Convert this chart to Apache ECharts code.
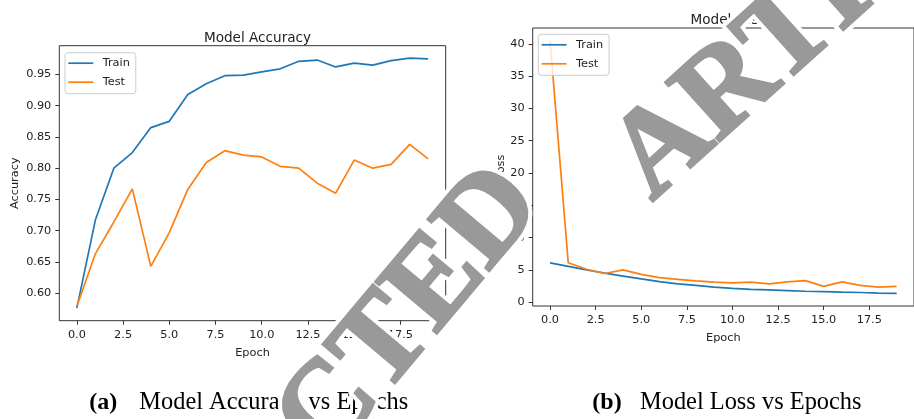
<!DOCTYPE html>
<html>
<head>
<meta charset="utf-8">
<script src="https://cdn.jsdelivr.net/npm/echarts@6/dist/echarts.min.js"></script>
<style>
html,body{margin:0;padding:0;background:#fff;}
#chart{width:914px;height:419px;}
</style>
</head>
<body>
<div id="chart"></div>
<script>
// ---- data ----
const epochs = [0,1,2,3,4,5,6,7,8,9,10,11,12,13,14,15,16,17,18,19];
const accTrain = [0.576,0.717,0.800,0.825,0.865,0.875,0.918,0.935,0.948,0.949,0.954,0.959,0.971,0.973,0.962,0.968,0.965,0.972,0.976,0.975];
const accTest  = [0.579,0.663,0.714,0.767,0.643,0.697,0.766,0.809,0.828,0.821,0.818,0.803,0.800,0.776,0.760,0.813,0.800,0.806,0.838,0.815];
const lossTrain = [6.1,5.55,5.0,4.5,4.05,3.6,3.2,2.85,2.6,2.35,2.15,2.0,1.9,1.8,1.7,1.65,1.55,1.5,1.42,1.37];
const lossTest  = [40.5,6.1,5.1,4.45,5.0,4.3,3.8,3.55,3.3,3.1,3.0,3.1,2.85,3.15,3.35,2.45,3.15,2.6,2.35,2.45];
const xTicks = [0,2.5,5,7.5,10,12.5,15,17.5];
const accTicks = [0.60,0.65,0.70,0.75,0.80,0.85,0.90,0.95];
const lossTicks = [0,5,10,15,20,25,30,35,40];
const seriesNames = ['Train','Test'];
const titles = ['Model Accuracy','Model Loss'];
const yNames = ['Accuracy','Loss'];
const xName = 'Epoch';
const captions = [['(a)','Model Accuracy vs Epochs'],['(b)','Model Loss vs Epochs']];
const watermarkWords = ['RETRACTED','ARTICLE'];

// ---- helpers ----
const pairs = (ys) => epochs.map((e,i)=>[e, ys[i]]);
function lim(arrs){
  const all = [].concat(...arrs);
  const mn = Math.min(...all), mx = Math.max(...all), r = mx - mn;
  return [mn - 0.05*r, mx + 0.05*r];
}
const accLim = lim([accTrain, accTest]);
const lossLim = lim([lossTrain, lossTest]);
const eSpan = epochs[epochs.length-1]-epochs[0];
const xLim = [epochs[0] - 0.05*eSpan, epochs[epochs.length-1] + 0.05*eSpan];

const FONT = '"DejaVu Sans", sans-serif';
const TXT = '#222';
const BLUE = '#1f77b4', ORANGE = '#ff7f0e';
const SPINE = '#333';

function xAxisDef(gi){
  return {
    type:'value', gridIndex:gi, min:xLim[0], max:xLim[1],
    name:xName, nameLocation:'middle', nameGap:27,
    nameTextStyle:{fontFamily:FONT, fontSize:11.3, color:TXT},
    axisLine:{show:false, onZero:false}, splitLine:{show:false},
    axisTick:{show:true, inside:false, length:4, lineStyle:{color:SPINE, width:1}, customValues:xTicks},
    axisLabel:{show:true, margin:9, fontFamily:FONT, fontSize:11.3, color:TXT, customValues:xTicks,
      formatter:(v)=>v.toFixed(1)}
  };
}
function yAxisDef(gi, lims, ticks, name, gap, dec){
  return {
    type:'value', gridIndex:gi, min:lims[0], max:lims[1],
    name:name, nameLocation:'middle', nameGap:gap, nameRotate:90,
    nameTextStyle:{fontFamily:FONT, fontSize:11.3, color:TXT},
    axisLine:{show:false, onZero:false}, splitLine:{show:false},
    axisTick:{show:true, inside:false, length:4, lineStyle:{color:SPINE, width:1}, customValues:ticks},
    axisLabel:{show:true, margin:8, fontFamily:FONT, fontSize:11.3, color:TXT, customValues:ticks,
      formatter:(v)=>v.toFixed(dec)}
  };
}
function lineSeries(name, data, color, gi){
  return {type:'line', name:name, xAxisIndex:gi, yAxisIndex:gi, data:pairs(data),
    showSymbol:false, symbol:'none', lineStyle:{color:color, width:1.7}, itemStyle:{color:color},
    animation:false, silent:true, clip:true};
}
function legendDef(left, top){
  return {
    orient:'vertical', left:left, top:top, data:seriesNames,
    icon:'path://M0,0H25V1.7H0Z', itemWidth:25, itemHeight:14, itemGap:5,
    padding:[3.5,6,4.5,3.3], borderColor:'#cccccc', borderWidth:1, borderRadius:3,
    backgroundColor:'rgba(255,255,255,0.8)',
    textStyle:{fontFamily:FONT, fontSize:11.3, color:TXT, lineHeight:14, padding:[0,0,0,4.4]},
    selectedMode:false
  };
}

// watermark: two words along a diagonal
const WM_FONT = 'bold 122px "Liberation Serif", serif';
const wmPos = [[274,478],[836,-6]];
const wmRot = [50,42];
function wmLayers(word, pos, deg, zb){
  const r = deg*Math.PI/180;
  return [
    {type:'text', x:pos[0], y:pos[1], rotation:r, z:zb,
      style:{text:word, font:WM_FONT, fill:'#ffffff', stroke:'#ffffff', lineWidth:11, lineJoin:'round', align:'center', verticalAlign:'middle'}},
    {type:'text', x:pos[0], y:pos[1], rotation:r, z:zb+1,
      style:{text:word, font:WM_FONT, fill:'#999999', stroke:'#999999', lineWidth:3, lineJoin:'round', align:'center', verticalAlign:'middle'}}
  ];
}

const chart = echarts.init(document.getElementById('chart'), null, {renderer:'canvas'});
const option = {
  backgroundColor:'#ffffff',
  animation:false,
  title:[
    {text:titles[0], left:252.5, top:26, textAlign:'center', textStyle:{fontFamily:FONT, fontSize:13.6, fontWeight:'normal', color:TXT}},
    {text:titles[1], left:723, top:8, textAlign:'center', textStyle:{fontFamily:FONT, fontSize:13.6, fontWeight:'normal', color:TXT}}
  ],
  grid:[
    {left:59.3, top:45.7, width:386.4, height:275, show:true, borderColor:SPINE, borderWidth:1, backgroundColor:'transparent', containLabel:false},
    {left:532.7, top:28, width:381.8, height:278, show:true, borderColor:SPINE, borderWidth:1, backgroundColor:'transparent', containLabel:false}
  ],
  legend:[legendDef(65,52.7), legendDef(538.3,34.3)],
  xAxis:[xAxisDef(0), xAxisDef(1)],
  yAxis:[yAxisDef(0, accLim, accTicks, yNames[0], 39, 2), yAxisDef(1, lossLim, lossTicks, yNames[1], 26, 0)],
  series:[
    lineSeries(seriesNames[0], accTrain, BLUE, 0),
    lineSeries(seriesNames[1], accTest, ORANGE, 0),
    lineSeries(seriesNames[0], lossTrain, BLUE, 1),
    lineSeries(seriesNames[1], lossTest, ORANGE, 1)
  ],
  graphic:[
    {type:'text', x:89.3, y:402.5, z:50, style:{text:captions[0][0], font:'bold 24px "Liberation Serif", serif', fill:'#000', align:'left', verticalAlign:'middle'}},
    {type:'text', x:139.3, y:402.5, z:50, style:{text:captions[0][1], font:'24.4px "Liberation Serif", serif', fill:'#000', align:'left', verticalAlign:'middle'}},
    {type:'text', x:592.3, y:402.5, z:50, style:{text:captions[1][0], font:'bold 24px "Liberation Serif", serif', fill:'#000', align:'left', verticalAlign:'middle'}},
    {type:'text', x:640, y:402.5, z:50, style:{text:captions[1][1], font:'24.4px "Liberation Serif", serif', fill:'#000', align:'left', verticalAlign:'middle'}}
  ].concat(wmLayers(watermarkWords[0], wmPos[0], wmRot[0], 200), wmLayers(watermarkWords[1], wmPos[1], wmRot[1], 202))
};
chart.setOption(option);
</script>
</body>
</html>
